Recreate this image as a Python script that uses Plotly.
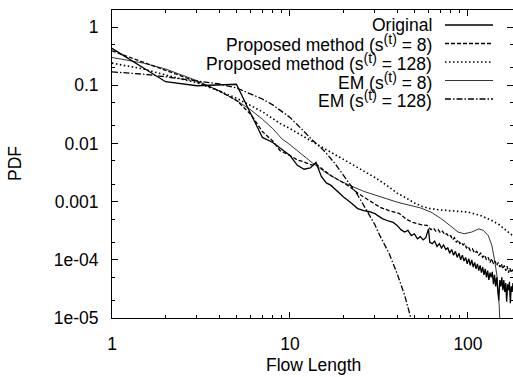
import plotly.graph_objects as go

# ---------------- data ----------------
orig_x = [1, 2, 3, 4, 5, 6, 7, 8, 9, 10, 11, 12, 13, 14, 15, 16, 17, 18, 19, 20,
          22, 24, 26, 28, 30, 33, 36, 38, 40, 42, 44, 46, 48, 50, 52, 54, 56, 58, 60,
          61, 63, 65, 67, 69, 71, 73, 75, 77, 79, 81, 83, 85, 87, 89, 91, 93, 95, 97,
          99, 101, 103, 105, 107, 109, 111, 113, 115, 117, 119, 121, 123, 125, 127,
          129, 131, 133, 135, 137, 139, 141, 143, 145, 147, 149, 151, 153, 155, 157,
          159, 161, 163, 165, 167, 169, 171, 173, 175, 177, 179, 181]
orig_y = [0.43, 0.115, 0.098, 0.103, 0.104, 0.033, 0.0127, 0.0104, 0.0079, 0.0062,
          0.0042, 0.0036, 0.0038, 0.0047, 0.0027, 0.0021, 0.0019, 0.0016, 0.0014, 0.0012,
          0.00096, 0.00076, 0.0007, 0.00067, 0.00062, 0.00051, 0.00046, 0.00044, 0.00039,
          0.00033, 0.0003, 0.00032, 0.00026, 0.00028, 0.00023, 0.00025, 0.00022, 0.00024,
          0.00034, 0.0002, 0.00019, 0.00021, 0.00017, 0.00019, 0.00016, 0.00018, 0.00015,
          0.00016, 0.00013, 0.00015, 0.00012, 0.00014, 0.00011, 0.00013, 0.0001, 0.00012,
          9.5e-5, 0.00011, 8.5e-5, 0.000105, 8e-5, 0.0001, 7.5e-5, 9e-5, 7e-5, 8.5e-5,
          6.5e-5, 8e-5, 6e-5, 7.5e-5, 5.5e-5, 7e-5, 5e-5, 6.5e-5, 4.5e-5, 6e-5, 5e-5,
          6.2e-5, 3.8e-5, 5.5e-5, 3.5e-5, 5e-5, 3e-5, 2e-5, 4.5e-5, 3.5e-5, 5e-5, 3e-5,
          4.5e-5, 2.8e-5, 4e-5, 1.9e-5, 3.8e-5, 3e-5, 4.2e-5, 1.8e-5, 3.5e-5, 2.8e-5,
          4e-5, 3e-5]

p8_x = [1, 1.5, 2, 3, 4, 5, 6, 7, 8, 8.8, 10, 11, 12, 13.4, 14, 15, 17, 19, 21.7,
        24, 27, 30, 32, 36, 41, 45, 49, 55, 59,
        62, 64, 66, 68, 70, 72, 74, 76, 78, 80, 82, 84, 86, 88, 90, 92, 94, 96, 98,
        100, 103, 106, 109, 112, 115, 118, 121, 124, 127, 130, 133, 136, 139, 142,
        145, 148, 151, 154, 157, 160, 163, 166, 169, 172, 175, 178, 181]
p8_y = [0.39, 0.25, 0.18, 0.115, 0.08, 0.055, 0.032, 0.016, 0.011, 0.0075, 0.0062,
        0.0052, 0.0048, 0.0042, 0.0044, 0.0037, 0.0028, 0.0023, 0.0018,
        0.0014, 0.0011, 0.0009, 0.0008, 0.0007, 0.00063, 0.0005, 0.00044, 0.0004, 0.00039,
        0.00033, 0.00035, 0.00031, 0.00033, 0.00029, 0.00031, 0.00027, 0.00028, 0.00025,
        0.00026, 0.00022, 0.00024, 0.0002, 0.00022, 0.00019, 0.0002, 0.00018, 0.00019,
        0.00016, 0.00017, 0.000145, 0.000155, 0.00013, 0.00014, 0.00012, 0.00013, 0.00011,
        0.00012, 0.0001, 0.00011, 9e-5, 0.000105, 8.5e-5, 9.5e-5, 8e-5, 9e-5, 7.5e-5,
        8.5e-5, 7e-5, 8e-5, 6.5e-5, 7.8e-5, 6e-5, 7.2e-5, 6e-5, 6.8e-5, 5.5e-5]

p128_x = [1, 1.5, 2, 3, 4, 5, 6, 7, 8.8, 10, 12, 14, 16, 19, 22, 26, 30, 35, 40, 45,
          50, 55, 61, 70, 80, 90, 100, 117, 135, 150, 165, 181]
p128_y = [0.24, 0.19, 0.15, 0.11, 0.08, 0.06, 0.045, 0.035, 0.022, 0.018, 0.013,
          0.0098, 0.0078, 0.0058, 0.0045, 0.0033, 0.0026, 0.0019, 0.0014, 0.00115,
          0.00095, 0.00083, 0.00076, 0.00072, 0.0007, 0.00068, 0.00066, 0.00058,
          0.00048, 0.0004, 0.00032, 0.00025]

em8_x = [1, 1.5, 2, 3, 4, 5, 6, 7, 8, 9, 10, 12, 13.4, 16, 19, 21.7, 26, 30, 35, 40,
         46, 54, 62, 70, 80, 88, 95, 105, 115, 122, 130, 136, 141, 146, 150, 152]
em8_y = [0.30, 0.24, 0.19, 0.12, 0.08, 0.055, 0.038, 0.026, 0.018, 0.012, 0.0095,
         0.006, 0.0046, 0.0031, 0.0023, 0.0019, 0.0015, 0.0013, 0.0011, 0.00098,
         0.00088, 0.00078, 0.00066, 0.00052, 0.00038, 0.0003, 0.00028, 0.0003, 0.00034,
         0.00032, 0.00026, 0.00018, 0.0001, 5e-5, 1.5e-5, 5e-6]

em128_x = [1, 1.5, 2, 3, 4, 5, 6, 7, 8, 9, 10, 11, 12, 13.4, 15, 16, 18, 20, 22, 24,
           27, 30, 32, 36, 40, 44, 47, 50]
em128_y = [0.17, 0.155, 0.14, 0.12, 0.105, 0.09, 0.072, 0.058, 0.046, 0.036, 0.028,
           0.021, 0.016, 0.0113, 0.0083, 0.0068, 0.0044, 0.0028, 0.0019, 0.0013,
           0.0007, 0.0004, 0.00026, 0.00013, 5.8e-5, 2.5e-5, 1.2e-5, 6e-6]

SUP = "<sup><span style='font-size:14px'>(t)</span></sup>"
legend_labels = ["Original",
                 "Proposed method (s" + SUP + " = 8)",
                 "Proposed method (s" + SUP + " = 128)",
                 "EM (s" + SUP + " = 8)",
                 "EM (s" + SUP + " = 128)"]

x_tickvals = [1, 10, 100]
x_ticktext = ["1", "10", "100"]
y_tickvals = [1e-5, 1e-4, 1e-3, 1e-2, 1e-1, 1]
y_ticktext = ["1e-05", "1e-04", "0.001", "0.01", "0.1", "1"]

# ---------------- styles ----------------
styles = [dict(width=1.3, dash="solid"),
          dict(width=1.3, dash="4px,2px"),
          dict(width=1.6, dash="1.5px,2.5px"),
          dict(width=0.8, dash="solid"),
          dict(width=1.3, dash="6px,2px,1.5px,2px")]
series = [(orig_x, orig_y), (p8_x, p8_y), (p128_x, p128_y), (em8_x, em8_y), (em128_x, em128_y)]

FONT = "Liberation Sans, Arial, Helvetica, sans-serif"
W, H = 513, 377
L, R, T, B = 112, 0, 10, 59
PW, PH = W - L - R, H - T - B

fig = go.Figure()
for (xs, ys), st in zip(series, styles):
    fig.add_trace(go.Scatter(x=xs, y=ys, mode="lines", showlegend=False,
                             line=dict(color="black", width=st["width"], dash=st["dash"])))

def px2paper_x(px):
    return (px - L) / PW

def px2paper_y(py):
    return (H - B - py) / PH

shapes = []
annotations = []
rows_y = [25, 43.5, 62, 80.5, 99]
for lab, st, ry in zip(legend_labels, styles, rows_y):
    annotations.append(dict(xref="paper", yref="paper", x=px2paper_x(434), y=px2paper_y(ry),
                            text=lab, showarrow=False, xanchor="right", yanchor="middle",
                            font=dict(family=FONT, size=17.5, color="black")))
    shapes.append(dict(type="line", xref="paper", yref="paper",
                       x0=px2paper_x(445), x1=px2paper_x(493),
                       y0=px2paper_y(ry), y1=px2paper_y(ry),
                       line=dict(color="black", width=st["width"], dash=st["dash"])))

annotations.append(dict(xref="paper", yref="paper", x=px2paper_x(313), y=px2paper_y(365),
                        text="Flow Length", showarrow=False, xanchor="center", yanchor="middle",
                        font=dict(family=FONT, size=17.5, color="black")))
annotations.append(dict(xref="paper", yref="paper", x=px2paper_x(15), y=px2paper_y(164),
                        text="PDF", showarrow=False, textangle=-90, xanchor="center",
                        yanchor="middle", font=dict(family=FONT, size=17.5, color="black")))

x_minor = [v * d for d in (1, 10, 100) for v in range(2, 10) if v * d < 200]
y_minor = [m * 10.0 ** e for e in range(-5, 1) for m in (2, 5) if m * 10.0 ** e < 1.9]

fig.update_layout(
    width=W, height=H, margin=dict(l=L, r=R, t=T, b=B),
    paper_bgcolor="white", plot_bgcolor="white",
    font=dict(family=FONT, size=17.5, color="black"),
    shapes=shapes, annotations=annotations,
    xaxis=dict(type="log", range=[0, 2.253], showline=True, linecolor="black", linewidth=1,
               mirror="ticks", ticks="inside", ticklen=6, tickcolor="black",
               tickvals=x_tickvals, ticktext=x_ticktext, showgrid=False, zeroline=False,
               ticklabelstandoff=10,
               minor=dict(ticks="inside", ticklen=3, tickcolor="black", tickvals=x_minor,
                          showgrid=False)),
    yaxis=dict(type="log", range=[-5, 0.293], showline=True, linecolor="black", linewidth=1,
               mirror="ticks", ticks="inside", ticklen=6, tickcolor="black",
               tickvals=y_tickvals, ticktext=y_ticktext, showgrid=False, zeroline=False,
               ticklabelstandoff=9,
               minor=dict(ticks="inside", ticklen=3, tickcolor="black", tickvals=y_minor,
                          showgrid=False)),
)

fig.write_html("out.html", config={"displayModeBar": False},
               post_script="document.body.style.margin='0';document.body.style.overflow='hidden';")
